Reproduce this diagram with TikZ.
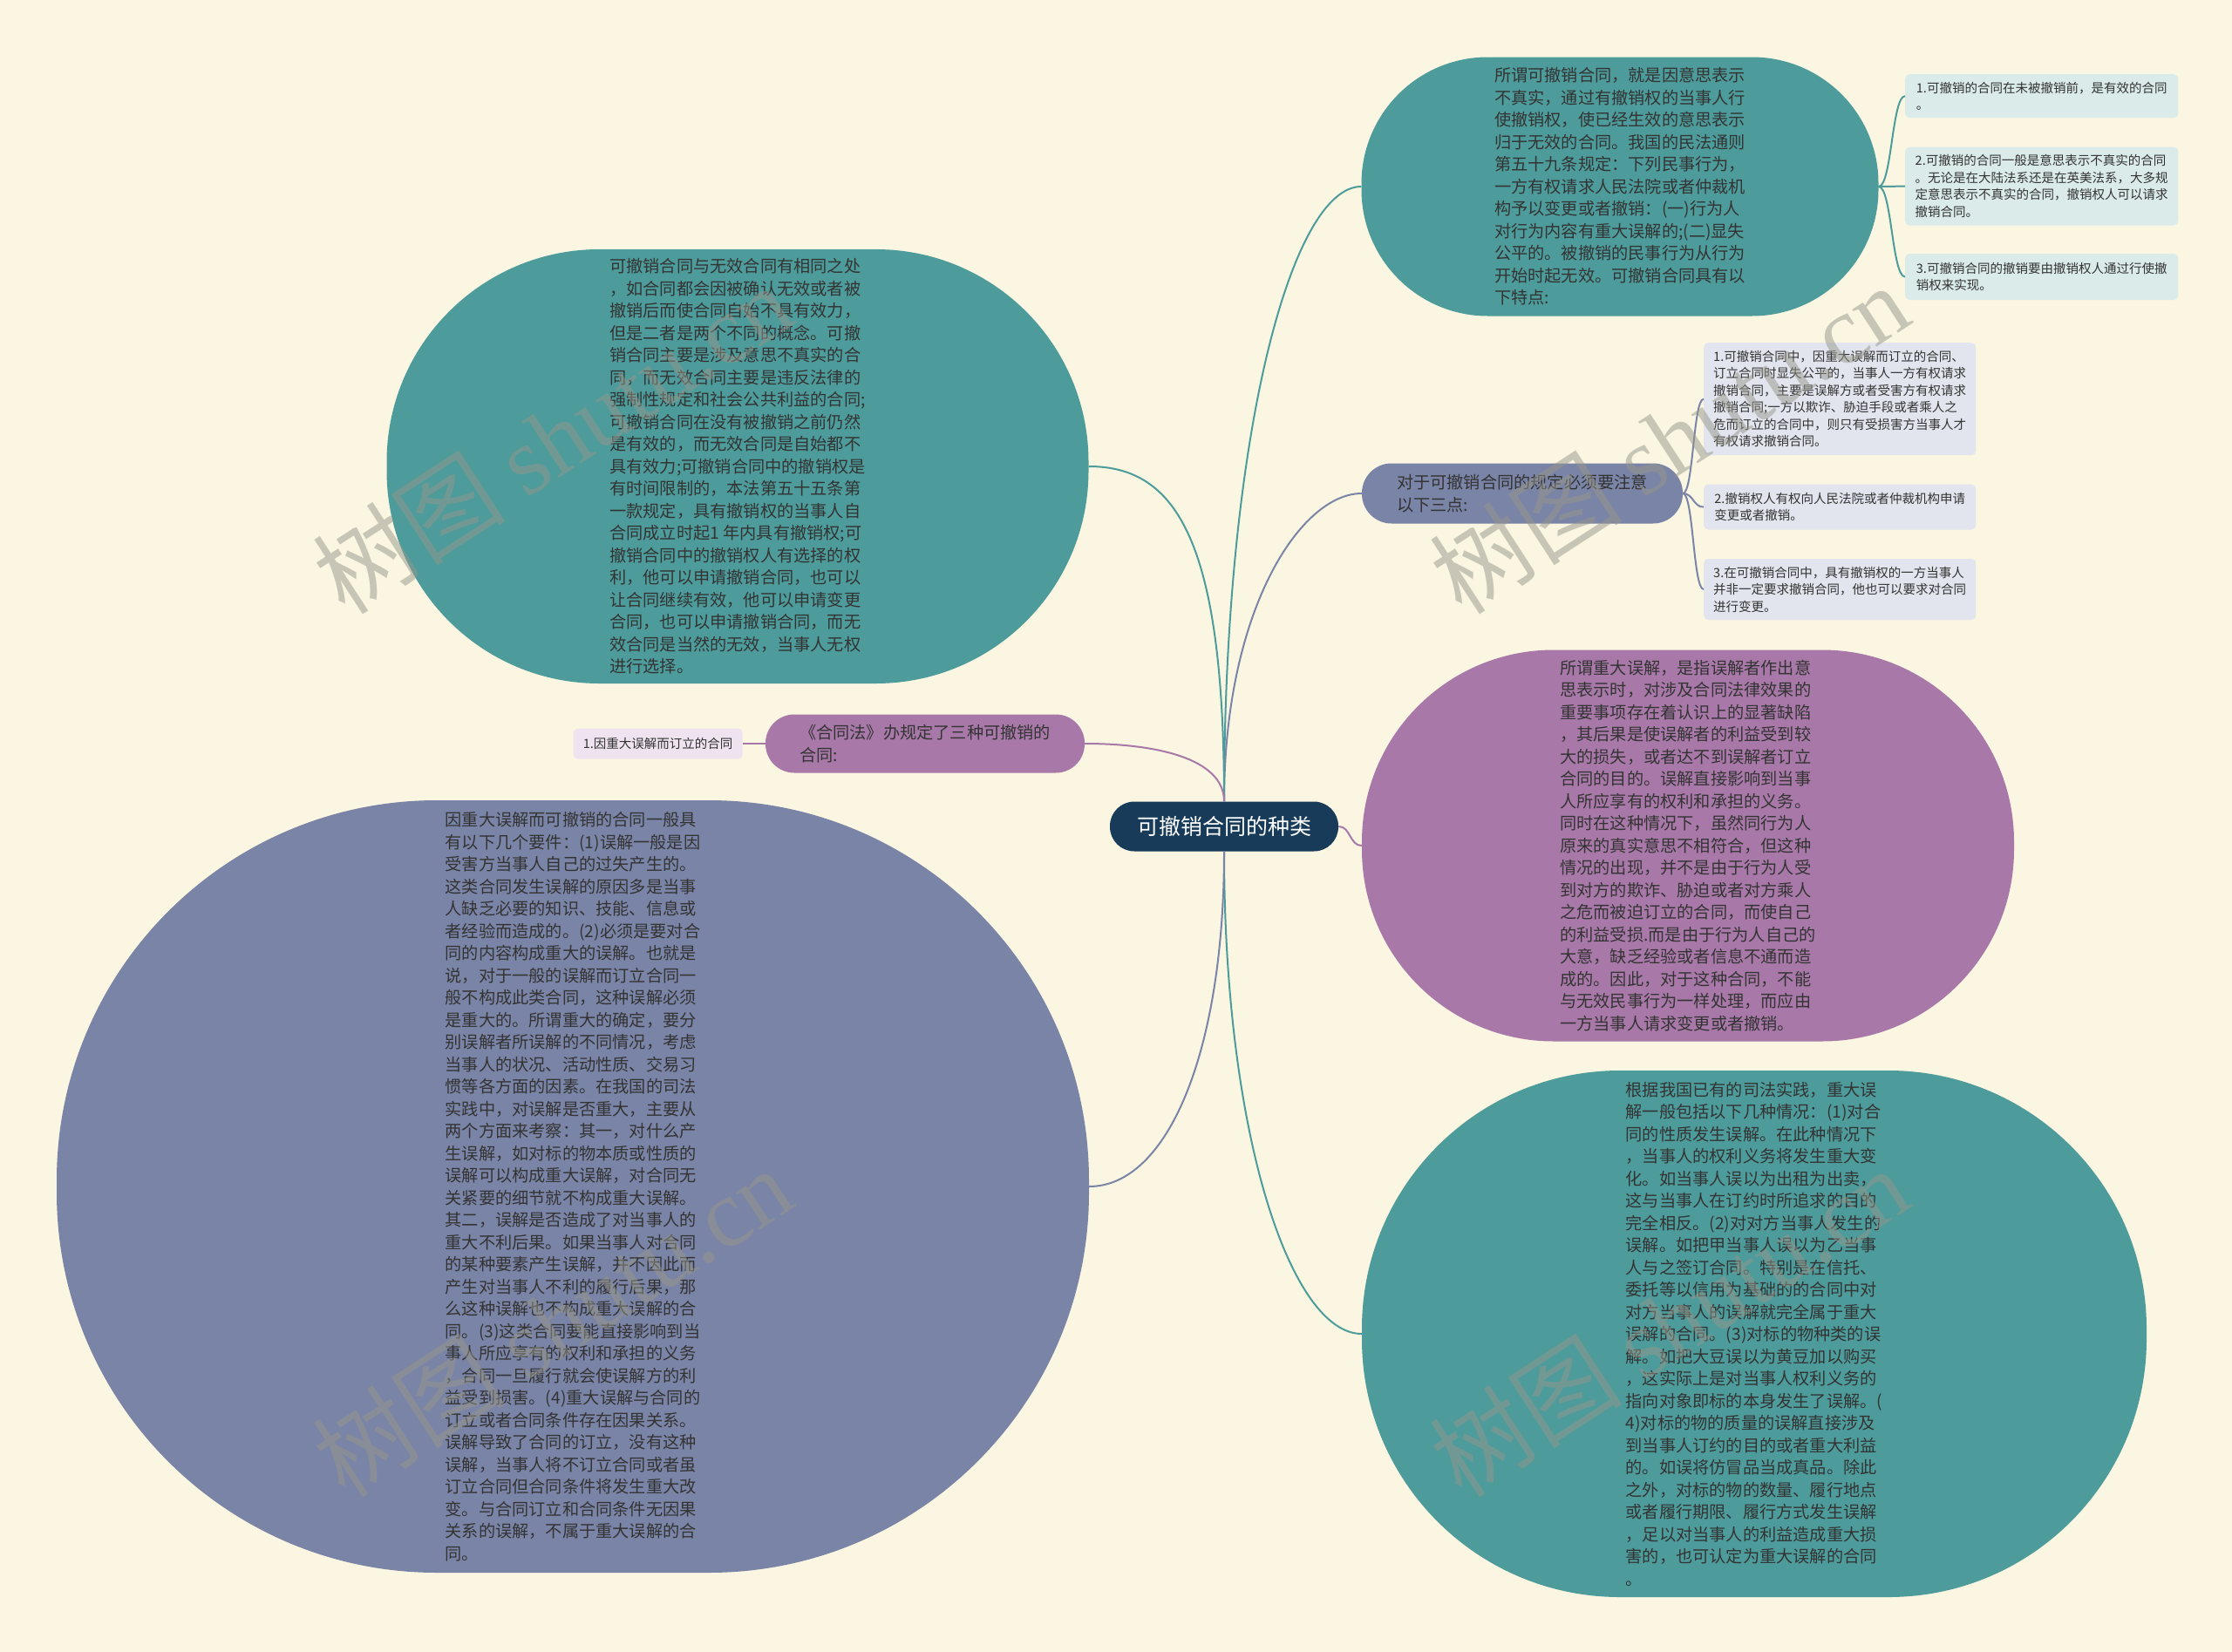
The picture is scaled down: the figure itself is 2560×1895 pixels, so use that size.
\documentclass[tikz,border=0pt]{standalone}
\usepackage{fontspec}
\setmainfont{Noto Sans CJK SC}
\newfontfamily\markserif{Liberation Serif}
\usetikzlibrary{positioning}
\definecolor{MapCream}{HTML}{FAF6E1}
\definecolor{MapNavy}{HTML}{173B59}
\definecolor{MapTeal}{HTML}{4D9C9B}
\definecolor{MapPurple}{HTML}{A879A8}
\definecolor{MapSlate}{HTML}{7A84A6}
\definecolor{MapInk}{HTML}{333333}
\definecolor{LeafTeal}{HTML}{DAEBEA}
\definecolor{LeafSlate}{HTML}{E2E5EE}
\definecolor{LeafPurple}{HTML}{EEE3EF}
\definecolor{MarkGray}{HTML}{96968B}

\begin{document}
\begin{tikzpicture}[x=1pt, y=-1pt, node distance=33pt,
        root/.style={rectangle, fill=MapNavy, text=white, rounded corners=28pt, minimum width=262pt, minimum height=57pt, font=\fontsize{25}{30}\selectfont},
        bubble/.style={rectangle, inner sep=0pt, align=left, text=MapInk, font=\fontsize{19.2}{25.5}\selectfont},
        leaf/.style={rectangle, rounded corners=5pt, inner sep=0pt, align=left, text=MapInk, minimum width=313pt, font=\fontsize{14.5}{19.5}\selectfont},
        wire/.style={line width=2pt},
        watermark/.style={text=MarkGray, text opacity=0.5, rotate=33, inner sep=0pt, font=\fontsize{111}{111}\selectfont}]

        \fill[MapCream] (0,0) rectangle (2560,1895);
        \useasboundingbox (0,0) rectangle (2560,1895);

        \node[root] (root) at (1404,948) {可撤销合同的种类};

        \node[bubble, fill=MapTeal, minimum width=593pt, minimum height=297pt, rounded corners=145pt] (define) at (1858,214) {所谓可撤销合同，就是因意思表示\\不真实，通过有撤销权的当事人行\\使撤销权，使已经生效的意思表示\\归于无效的合同。我国的民法通则\\第五十九条规定：下列民事行为，\\一方有权请求人民法院或者仲裁机\\构予以变更或者撤销：(一)行为人\\对行为内容有重大误解的;(二)显失\\公平的。被撤销的民事行为从行为\\开始时起无效。可撤销合同具有以\\下特点:};

        \node[leaf, fill=LeafTeal, minimum height=50pt, anchor=north west] (trait1) at (2185,85) {1.可撤销的合同在未被撤销前，是有效的合同\\。};
        \node[leaf, fill=LeafTeal, minimum height=90pt, below=33pt of trait1] (trait2) {2.可撤销的合同一般是意思表示不真实的合同\\。无论是在大陆法系还是在英美法系，大多规\\定意思表示不真实的合同，撤销权人可以请求\\撤销合同。};
        \node[leaf, fill=LeafTeal, minimum height=53pt, below=32pt of trait2] (trait3) {3.可撤销合同的撤销要由撤销权人通过行使撤\\销权来实现。};

        \node[bubble, fill=MapSlate, minimum width=368pt, minimum height=69pt, rounded corners=34pt] (notice) at (1746,566) {对于可撤销合同的规定必须要注意\\以下三点:};

        \node[leaf, fill=LeafSlate, minimum width=312pt, minimum height=129pt, anchor=north west] (point1) at (1954,393) {1.可撤销合同中，因重大误解而订立的合同、\\订立合同时显失公平的，当事人一方有权请求\\撤销合同，主要是误解方或者受害方有权请求\\撤销合同;一方以欺诈、胁迫手段或者乘人之\\危而订立的合同中，则只有受损害方当事人才\\有权请求撤销合同。};
        \node[leaf, fill=LeafSlate, minimum width=312pt, minimum height=52pt, below=of point1] (point2) {2.撤销权人有权向人民法院或者仲裁机构申请\\变更或者撤销。};
        \node[leaf, fill=LeafSlate, minimum width=312pt, minimum height=70pt, below=of point2] (point3) {3.在可撤销合同中，具有撤销权的一方当事人\\并非一定要求撤销合同，他也可以要求对合同\\进行变更。};

        \node[bubble, fill=MapPurple, minimum width=748pt, minimum height=449pt, rounded corners=220pt] (mistake) at (1936,970) {所谓重大误解，是指误解者作出意\\思表示时，对涉及合同法律效果的\\重要事项存在着认识上的显著缺陷\\，其后果是使误解者的利益受到较\\大的损失，或者达不到误解者订立\\合同的目的。误解直接影响到当事\\人所应享有的权利和承担的义务。\\同时在这种情况下，虽然同行为人\\原来的真实意思不相符合，但这种\\情况的出现，并不是由于行为人受\\到对方的欺诈、胁迫或者对方乘人\\之危而被迫订立的合同，而使自己\\的利益受损.而是由于行为人自己的\\大意，缺乏经验或者信息不通而造\\成的。因此，对于这种合同，不能\\与无效民事行为一样处理，而应由\\一方当事人请求变更或者撤销。};

        \node[bubble, fill=MapTeal, minimum width=900pt, minimum height=604pt, rounded corners=296pt] (cases) at (2012,1530) {根据我国已有的司法实践，重大误\\解一般包括以下几种情况：(1)对合\\同的性质发生误解。在此种情况下\\，当事人的权利义务将发生重大变\\化。如当事人误以为出租为出卖，\\这与当事人在订约时所追求的目的\\完全相反。(2)对对方当事人发生的\\误解。如把甲当事人误以为乙当事\\人与之签订合同。特别是在信托、\\委托等以信用为基础的的合同中对\\对方当事人的误解就完全属于重大\\误解的合同。(3)对标的物种类的误\\解。如把大豆误以为黄豆加以购买\\，这实际上是对当事人权利义务的\\指向对象即标的本身发生了误解。(\\4)对标的物的质量的误解直接涉及\\到当事人订约的目的或者重大利益\\的。如误将仿冒品当成真品。除此\\之外，对标的物的数量、履行地点\\或者履行期限、履行方式发生误解\\，足以对当事人的利益造成重大损\\害的，也可认定为重大误解的合同\\。};

        \node[bubble, fill=MapTeal, minimum width=805pt, minimum height=498pt, rounded corners=244pt] (compare) at (846,535) {可撤销合同与无效合同有相同之处\\，如合同都会因被确认无效或者被\\撤销后而使合同自始不具有效力，\\但是二者是两个不同的概念。可撤\\销合同主要是涉及意思不真实的合\\同，而无效合同主要是违反法律的\\强制性规定和社会公共利益的合同;\\可撤销合同在没有被撤销之前仍然\\是有效的，而无效合同是自始都不\\具有效力;可撤销合同中的撤销权是\\有时间限制的，本法第五十五条第\\一款规定，具有撤销权的当事人自\\合同成立时起1 年内具有撤销权;可\\撤销合同中的撤销权人有选择的权\\利，他可以申请撤销合同，也可以\\让合同继续有效，他可以申请变更\\合同，也可以申请撤销合同，而无\\效合同是当然的无效，当事人无权\\进行选择。};

        \node[bubble, fill=MapPurple, minimum width=366pt, minimum height=67pt, rounded corners=33pt] (law) at (1061,853) {《合同法》办规定了三种可撤销的\\合同:};
        \node[leaf, fill=LeafPurple, minimum width=194pt, minimum height=35pt, left=26pt of law] (kind1) {1.因重大误解而订立的合同};

        \node[bubble, fill=MapSlate, minimum width=1184pt, minimum height=886pt, rounded corners=436pt] (terms) at (657,1361) {因重大误解而可撤销的合同一般具\\有以下几个要件：(1)误解一般是因\\受害方当事人自己的过失产生的。\\这类合同发生误解的原因多是当事\\人缺乏必要的知识、技能、信息或\\者经验而造成的。(2)必须是要对合\\同的内容构成重大的误解。也就是\\说，对于一般的误解而订立合同一\\般不构成此类合同，这种误解必须\\是重大的。所谓重大的确定，要分\\别误解者所误解的不同情况，考虑\\当事人的状况、活动性质、交易习\\惯等各方面的因素。在我国的司法\\实践中，对误解是否重大，主要从\\两个方面来考察：其一，对什么产\\生误解，如对标的物本质或性质的\\误解可以构成重大误解，对合同无\\关紧要的细节就不构成重大误解。\\其二，误解是否造成了对当事人的\\重大不利后果。如果当事人对合同\\的某种要素产生误解，并不因此而\\产生对当事人不利的履行后果，那\\么这种误解也不构成重大误解的合\\同。(3)这类合同要能直接影响到当\\事人所应享有的权利和承担的义务\\，合同一旦履行就会使误解方的利\\益受到损害。(4)重大误解与合同的\\订立或者合同条件存在因果关系。\\误解导致了合同的订立，没有这种\\误解，当事人将不订立合同或者虽\\订立合同但合同条件将发生重大改\\变。与合同订立和合同条件无因果\\关系的误解，不属于重大误解的合\\同。};

        \draw[wire, MapTeal] (root.north) .. controls +(0,-420) and +(-80,0) .. (define.west);
        \draw[wire, MapSlate] (root.north) .. controls +(0,-220) and +(-70,0) .. (notice.west);
        \draw[wire, MapTeal] (root.north) .. controls +(0,-300) and +(100,0) .. (compare.east);
        \draw[wire, MapPurple] (root.north) .. controls +(0,-50) and +(80,0) .. (law.east);
        \draw[wire, MapPurple] (root.east) .. controls +(14,0) and +(-14,0) .. (mistake.west);
        \draw[wire, MapTeal] (root.south) .. controls +(0,330) and +(-80,0) .. (cases.west);
        \draw[wire, MapSlate] (root.south) .. controls +(0,230) and +(90,0) .. (terms.east);

        \draw[wire, MapTeal] (define.east) .. controls +(15,0) and +(-15,0) .. (trait1.west);
        \draw[wire, MapTeal] (define.east) .. controls +(15,0) and +(-15,0) .. (trait2.west);
        \draw[wire, MapTeal] (define.east) .. controls +(15,0) and +(-15,0) .. (trait3.west);
        \draw[wire, MapSlate] (notice.east) .. controls +(12,0) and +(-12,0) .. (point1.west);
        \draw[wire, MapSlate] (notice.east) .. controls +(12,0) and +(-12,0) .. (point2.west);
        \draw[wire, MapSlate] (notice.east) .. controls +(12,0) and +(-12,0) .. (point3.west);
        \draw[wire, MapPurple] (law.west) -- (kind1.east);

        \node[watermark] (wm1) at (633,503) {树图 {\markserif shutu.cn}};
        \node[watermark] (wm2) at (1914,503) {树图 {\markserif shutu.cn}};
        \node[watermark] (wm3) at (633,1516) {树图 {\markserif shutu.cn}};
        \node[watermark] (wm4) at (1914,1516) {树图 {\markserif shutu.cn}};
\end{tikzpicture}
\end{document}
